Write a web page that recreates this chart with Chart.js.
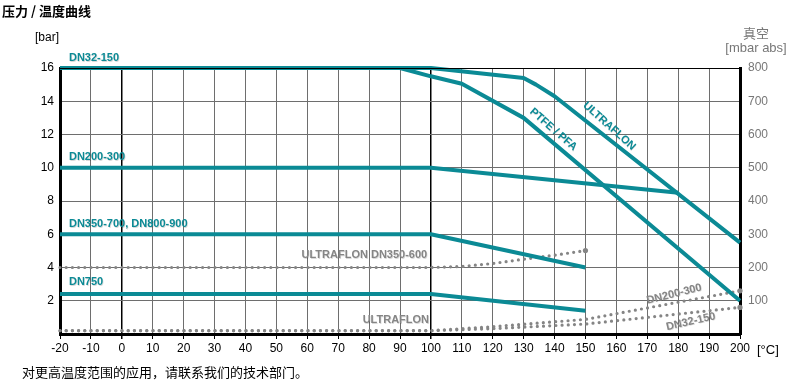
<!DOCTYPE html>
<html>
<head>
<meta charset="utf-8">
<script src="https://cdn.jsdelivr.net/npm/chart.js@4.4.1/dist/chart.umd.min.js"></script>
<style>
  body { margin: 0; background: #fff; }
  canvas { display: block; }
</style>
</head>
<body>
<canvas id="chart" width="802" height="384"></canvas>
<script>
    // temperatures [°C] and pressures [bar]
    const dn32Temp = [-20, 90, 100, 110, 130, 200];
    const dn32Bar = [16, 16, 15.5, 15.05, 13, 2];
    const ultraTemp = [-20, 100, 130, 134, 140, 200];
    const ultraBar = [16, 16, 15.4, 15.0, 14.3, 5.5];
    const dn200Temp = [-20, 100, 180];
    const dn200Bar = [10, 10, 8.5];
    const dn350Temp = [-20, 100, 150];
    const dn350Bar = [6, 6, 4];
    const dn750Temp = [-20, 100, 150];
    const dn750Bar = [2.4, 2.4, 1.4];

    // vacuum [mbar abs]
    const vac350Temp = [-20, 100, 110, 120, 130, 140, 150];
    const vac350Mbar = [200, 200, 203, 212, 225, 237, 251];
    const vac200Temp = [-20, 100, 120, 150, 200];
    const vac200Mbar = [10, 10, 22, 44, 130];
    const vac32Temp = [-20, 100, 120, 150, 200];
    const vac32Mbar = [10, 10, 16, 30, 80];

    const teal = '#0b8a95';
    const grey = '#858585';
    const font = '"Liberation Sans", Arial, sans-serif';
    const cjk = '"Noto Sans CJK SC", "Liberation Sans", sans-serif';

    function pts(xs, ys) {
        return xs.map((x, i) => ({ x: x, y: ys[i] }));
    }

    function tealLine(xs, ys) {
        return {
            data: pts(xs, ys), yAxisID: 'y', borderColor: teal, borderWidth: 4,
            pointRadius: 0, tension: 0, borderJoinStyle: 'round', clip: false, order: 1
        };
    }

    function dotLine(xs, ys) {
        let radii = xs.map((x, i) => i === xs.length - 1 ? 2.6 : 0);
        return {
            data: pts(xs, ys), yAxisID: 'y2', borderColor: grey, borderWidth: 3.2,
            borderDash: [0, 6.2], borderCapStyle: 'round', pointRadius: radii,
            pointBackgroundColor: grey, pointBorderWidth: 0,
            tension: 0, clip: false, order: 2
        };
    }

    // chart labels: [text, temp, bar, angle, colour, align]
    const notes = [
        ['DN32-150', -17.1, 16.6, 0, teal, 'left'],
        ['DN200-300', -17.1, 10.65, 0, teal, 'left'],
        ['DN350-700, DN800-900', -17.1, 6.63, 0, teal, 'left'],
        ['DN750', -17.1, 3.1, 0, teal, 'left'],
        ['ULTRAFLON DN350-600', 98.8, 4.75, 0, grey, 'right'],
        ['ULTRAFLON', 99.4, 0.84, 0, grey, 'right'],
        ['PTFE / PFA', 139.6, 12.3, 41, teal, 'center'],
        ['ULTRAFLON', 157.7, 12.5, 42, teal, 'center'],
        ['DN200-300', 178.7, 2.4, -14, grey, 'center'],
        ['DN32-150', 184.1, 0.74, -13, grey, 'center']
    ];

    const extras = {
        id: 'extras',
        afterDatasetsDraw(chart) {
            const c = chart.ctx;
            const xs = chart.scales.x, ys = chart.scales.y;
            c.save();
            c.textBaseline = 'middle';
            c.font = 'bold 11px ' + font;
            notes.forEach(n => {
                c.save();
                c.translate(xs.getPixelForValue(n[1]), ys.getPixelForValue(n[2]));
                c.rotate(n[3] * Math.PI / 180);
                c.textAlign = n[5];
                c.fillStyle = 'rgba(0,0,0,0.15)';
                c.fillText(n[0], 0.7, 0.7);
                c.fillStyle = n[4];
                c.fillText(n[0], 0, 0);
                c.restore();
            });

            c.fillStyle = '#000';
            c.textAlign = 'left';
            c.font = 'bold 13px ' + cjk;
            c.fillText('压力 / 温度曲线', 2, 11);
            c.font = '12px ' + font;
            c.fillText('[bar]', 35, 38);
            c.font = '13px ' + font;
            c.fillText('[°C]', 757, 350);
            c.font = '13px ' + cjk;
            c.fillText('对更高温度范围的应用，请联系我们的技术部门。', 22, 372);

            c.fillStyle = '#777';
            c.textAlign = 'center';
            c.font = '13px ' + cjk;
            c.fillText('真空', 756, 33);
            c.font = '13px ' + font;
            c.fillText('[mbar abs]', 756, 48);

            // top frame line
            c.strokeStyle = '#000';
            c.lineWidth = 1;
            c.beginPath();
            c.moveTo(chart.chartArea.left, chart.chartArea.top + 0.5);
            c.lineTo(chart.chartArea.right, chart.chartArea.top + 0.5);
            c.stroke();
            c.restore();
        }
    };

    const ctx = document.getElementById('chart').getContext('2d');
    const chart = new Chart(ctx, {
        type: 'line',
        data: {
            datasets: [
                tealLine(dn32Temp, dn32Bar),
                tealLine(ultraTemp, ultraBar),
                tealLine(dn200Temp, dn200Bar),
                tealLine(dn350Temp, dn350Bar),
                tealLine(dn750Temp, dn750Bar),
                dotLine(vac350Temp, vac350Mbar),
                dotLine(vac200Temp, vac200Mbar),
                dotLine(vac32Temp, vac32Mbar)
            ]
        },
        options: {
            responsive: false,
            animation: false,
            layout: { padding: { top: 68, left: 0, right: 0, bottom: 0 } },
            plugins: { legend: { display: false }, tooltip: { enabled: false } },
            scales: {
                x: {
                    type: 'linear', min: -20, max: 200,
                    afterFit: s => { s.height = 50; },
                    ticks: { stepSize: 10, color: '#000', font: { size: 12, family: font }, padding: 2, maxRotation: 0 },
                    grid: {
                        color: c => (c.tick.value === 0 || c.tick.value === 100) ? '#000' : '#6e6e6e',
                        lineWidth: c => (c.tick.value === 0 || c.tick.value === 100) ? 1.5 : 1,
                        tickColor: '#000', tickLength: 5
                    },
                    border: { color: '#000', width: 3 }
                },
                y: {
                    position: 'left', min: 0, max: 16,
                    afterFit: s => { s.width = 60; },
                    ticks: {
                        stepSize: 2, color: '#000', font: { size: 12, family: font }, padding: 6,
                        callback: v => v === 0 ? '' : v
                    },
                    grid: { color: '#6e6e6e', lineWidth: 1, drawTicks: false },
                    border: { color: '#000', width: 3 }
                },
                y2: {
                    position: 'right', min: 0, max: 800,
                    afterFit: s => { s.width = 62; },
                    ticks: {
                        stepSize: 100, color: '#777', font: { size: 12, family: font }, padding: 8,
                        callback: v => v === 0 ? '' : v
                    },
                    grid: { display: false, drawTicks: false },
                    border: { color: '#000', width: 3 }
                }
            }
        },
        plugins: [extras]
    });
</script>
</body>
</html>
